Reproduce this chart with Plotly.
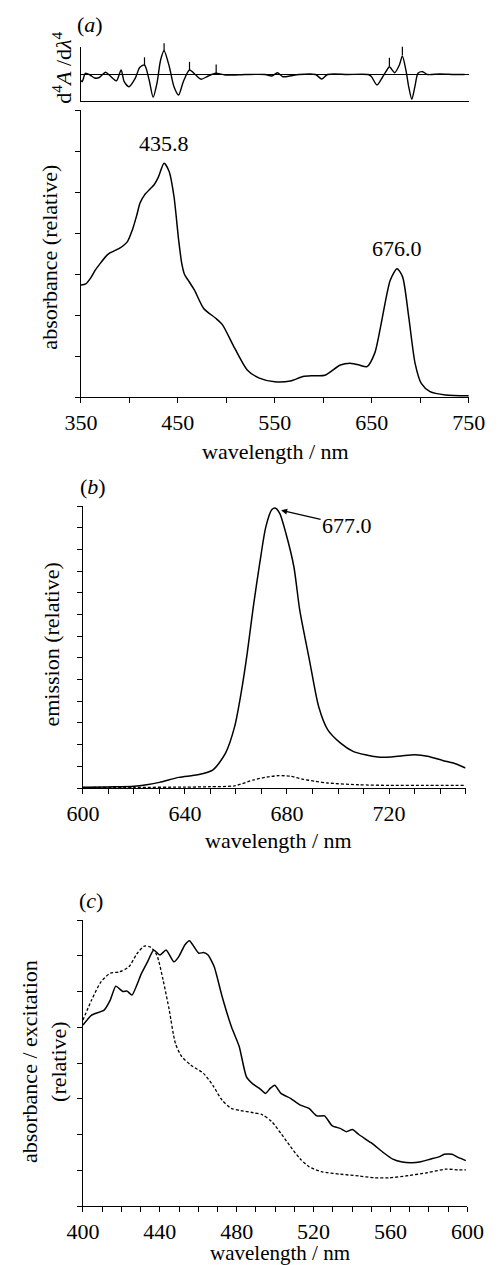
import plotly.graph_objects as go

W, H = 504, 1265
FONT = "Liberation Serif"
FS = 22

# ---------------- data ----------------
# (a) fourth-derivative trace
deriv_nm = [350, 351.4, 354.6, 359.4, 364.2, 369, 375.5, 380.3, 386.7, 391.5, 394.7, 399.5, 406, 410.8,
            415.6, 420.4, 424.5, 428.4, 432.2, 435.8, 441.2, 446, 450.8, 455.6, 462, 468.5, 474, 481.3,
            489.2, 498.8, 520, 540, 546.9, 552.7, 558.2, 575, 592, 598.3, 604.3, 625, 646.3, 649.5,
            655.3, 660.8, 664.9, 668.1, 673.6, 678.4, 681.5, 685.4, 688, 691.2, 694.4, 697.6, 702.4,
            707.2, 720, 735, 745.7]
deriv_val = [-6, -7.2, 1.2, -0.5, -3.5, -3, 2.2, -1.5, -6.2, 4.5, -7.2, -12.2, -3.8, 7.2,
             9.5, -5.5, -22.8, -9, 14.5, 23.8, 7.8, -12.2, -20.5, -7.2, 4.5, -0.5, -4.8, -1.5,
             1.2, -0.5, 0, 0, -1.5, 1.8, -2.2, 0, 0, -4.5, 0, 0, 0, -2,
             -10.5, -3, 3.5, 7.8, 1.8, 9.5, 18.5, 3, -12.2, -24.8, -12.2, 1.2, 2.8,
             0, 0.5, 0, 0]
peak_tick_nm = [415.6, 435.8, 462, 489.5, 668.1, 681.5]
peak_tick_val = [13, 27, 8.5, 5.8, 12.5, 23.5]

# (a) absorbance
abs_nm = [350, 355, 360, 365, 370, 377, 380.4, 390, 398, 403, 407.7, 411, 415.7, 422, 425.3, 430, 435.8,
          441, 446, 450.8, 454, 457, 460.6, 467, 476.6, 489, 496, 508.6, 521.5, 534, 550, 566, 579,
          589, 601.6, 617.6, 628.8, 637, 645, 653, 659, 669, 676, 681.7, 688, 694.6, 701, 710, 726, 750]
abs_val = [2.73, 2.76, 2.9, 3.1, 3.26, 3.46, 3.52, 3.63, 3.79, 4.07, 4.44, 4.73, 4.93, 5.09, 5.17, 5.37, 5.70,
           5.5, 4.89, 3.83, 3.26, 2.98, 2.85, 2.61, 2.16, 1.92, 1.76, 1.19, 0.66, 0.46, 0.37, 0.39, 0.50,
           0.52, 0.53, 0.78, 0.82, 0.78, 0.74, 1.07, 1.71, 2.85, 3.13, 2.93, 1.96, 0.82, 0.33, 0.13, 0.05, 0.03]

# (b) emission
em_nm = [600, 610, 620, 625, 630, 637.6, 645, 651, 655.9, 659.5, 662, 664.4, 666.8, 669.3, 671.7, 674.1,
         675.5, 677.2, 679.6, 682.7, 685, 688.8, 692.4, 696, 701, 705.9, 710.7, 715.6, 720.5, 725.4,
         730.2, 735.1, 741, 746, 750]
em_val = [0.03, 0.05, 0.08, 0.15, 0.26, 0.49, 0.61, 0.84, 1.61, 2.84, 4.37, 6.21, 8.36, 10.35, 12.04, 12.84,
          12.9, 12.65, 11.73, 10.2, 8.2, 5.9, 3.76, 2.68, 2.07, 1.69, 1.53, 1.43, 1.43, 1.49,
          1.53, 1.46, 1.27, 1.12, 0.92]
em2_nm = [600, 620, 640, 650, 659.5, 667, 672, 676.6, 681.5, 686, 691, 696, 708, 720.5, 735, 750]
em2_val = [0.02, 0.03, 0.04, 0.06, 0.1, 0.38, 0.5, 0.57, 0.54, 0.41, 0.31, 0.23, 0.15, 0.12, 0.12, 0.12]

# (c) absorbance / excitation
exc_nm = [400, 404.5, 411, 414.2, 417.1, 420.7, 423, 425.5, 430.4, 433.6, 436.8, 440, 443.3, 447.3, 449.8,
          453, 455.4, 457.8, 460.3, 462.7, 465.1, 468.3, 472.4, 477.2, 481.3, 485, 488.5, 491.8, 495,
          497.4, 499.8, 503, 508, 512.8, 517.6, 521.6, 525.7, 529.7, 533.8, 537, 540.2, 543.5, 549.9,
          556.4, 561.2, 566.1, 570.9, 575.8, 580.6, 585.5, 587.9, 592, 595.2, 599.2]
exc_val = [5.06, 5.34, 5.48, 5.76, 6.15, 6.0, 6.01, 5.9, 6.5, 6.83, 7.16, 7.02, 7.16, 6.83, 6.97,
           7.3, 7.42, 7.25, 7.07, 7.09, 7.02, 6.69, 5.86, 5.02, 4.46, 3.62, 3.41, 3.29, 3.15,
           3.29, 3.38, 3.15, 3.01, 2.83, 2.73, 2.52, 2.52, 2.24, 2.17, 2.08, 2.14, 2.0, 1.77,
           1.49, 1.31, 1.23, 1.21, 1.24, 1.31, 1.38, 1.45, 1.45, 1.36, 1.27]
abs2_nm = [400, 404.5, 409.4, 414.2, 419, 423.9, 428, 432, 435.2, 438.4, 441.7, 444.9, 448.1, 451.4, 456.2,
           462.7, 467.5, 472.4, 477.2, 482, 488.5, 493.4, 498.2, 503, 508, 512.8, 517.6, 524, 533.8,
           543.5, 551.5, 559.6, 569.3, 579, 588.7, 595.2, 599.2]
abs2_val = [5.2, 5.76, 6.27, 6.51, 6.55, 6.69, 7.05, 7.27, 7.24, 7.02, 6.32, 5.48, 4.55, 4.18, 3.94,
            3.71, 3.38, 2.96, 2.73, 2.67, 2.61, 2.55, 2.36, 2.03, 1.66, 1.33, 1.1, 0.96, 0.89,
            0.84, 0.79, 0.79, 0.85, 0.93, 1.03, 1.01, 1.01]


def px(x):
    return x / W


def py(y):
    return 1 - y / H


fig = go.Figure()
LINE = dict(color="black", width=1.5)
DASH = dict(color="black", width=1.3, dash="3px,2px")

fig.add_trace(go.Scatter(x=deriv_nm, y=deriv_val, mode="lines", line=dict(color="black", width=1.4, shape="spline", smoothing=0.7),
                         xaxis="x", yaxis="y", hoverinfo="skip"))
fig.add_trace(go.Scatter(x=peak_tick_nm, y=peak_tick_val, mode="markers", cliponaxis=False,
                         marker=dict(symbol="line-ns", size=6, line=dict(color="black", width=1.2)),
                         xaxis="x", yaxis="y", hoverinfo="skip"))
fig.add_trace(go.Scatter(x=abs_nm, y=abs_val, mode="lines", line=dict(LINE, shape="spline", smoothing=0.7),
                         xaxis="x2", yaxis="y2", hoverinfo="skip"))
fig.add_trace(go.Scatter(x=em_nm, y=em_val, mode="lines", line=dict(LINE, shape="spline", smoothing=0.7),
                         xaxis="x3", yaxis="y3", hoverinfo="skip"))
fig.add_trace(go.Scatter(x=em2_nm, y=em2_val, mode="lines", line=dict(DASH, shape="spline", smoothing=0.7),
                         xaxis="x3", yaxis="y3", hoverinfo="skip"))
fig.add_trace(go.Scatter(x=exc_nm, y=exc_val, mode="lines", line=dict(LINE, shape="spline", smoothing=0.5),
                         xaxis="x4", yaxis="y4", hoverinfo="skip"))
fig.add_trace(go.Scatter(x=abs2_nm, y=abs2_val, mode="lines", line=dict(DASH, shape="spline", smoothing=0.7),
                         xaxis="x4", yaxis="y4", hoverinfo="skip"))

AX = dict(showline=True, linecolor="black", linewidth=1.2, showgrid=False, zeroline=False,
          ticks="outside", tickcolor="black", tickwidth=1.2, ticklen=5,
          tickfont=dict(family=FONT, size=FS, color="black"), mirror=False, fixedrange=True)
MINOR = dict(ticks="outside", ticklen=5, tickcolor="black", tickwidth=1.2)

fig.update_layout(
    xaxis=dict(AX, domain=[px(68.5), px(484.5)], range=[350, 750], anchor="y", ticks="", showticklabels=False),
    yaxis=dict(AX, domain=[py(101), py(47)], range=[-26.5, 27.5], anchor="x", ticks="", showticklabels=False,
               zeroline=True, zerolinecolor="black", zerolinewidth=1.2),
    xaxis2=dict(AX, domain=[px(68.5), px(484.5)], range=[350, 750], anchor="y2", tick0=350, dtick=100,
                minor=dict(MINOR, dtick=50)),
    yaxis2=dict(AX, domain=[py(397), py(110)], range=[0, 7], anchor="x2", dtick=1, showticklabels=False),
    xaxis3=dict(AX, domain=[px(70.7), px(481)], range=[600, 750], anchor="y3", tick0=600, dtick=40,
                minor=dict(MINOR, dtick=10)),
    yaxis3=dict(AX, domain=[py(788), py(506)], range=[0, 13], anchor="x3", dtick=1, showticklabels=False),
    xaxis4=dict(AX, domain=[px(70.7), px(483)], range=[400, 600], anchor="y4", tick0=400, dtick=40,
                minor=dict(MINOR, dtick=10)),
    yaxis4=dict(AX, domain=[py(1206), py(920)], range=[0, 8], anchor="x4", dtick=1, showticklabels=False),
)


def ann(text, x, y, size=FS, angle=0, **kw):
    fig.add_annotation(text=text, x=px(x), y=py(y), xref="paper", yref="paper", showarrow=False,
                       textangle=angle, font=dict(family=FONT, size=size, color="black"),
                       xanchor="center", yanchor="middle", **kw)


ann("(<i>a</i>)", 78, 24)
ann("(<i>b</i>)", 82, 486)
ann("(<i>c</i>)", 79, 900)
ann("d<sup>4</sup><i>A</i> /d<i>λ</i><sup>4</sup>", 48, 68, angle=-90)
ann("absorbance (relative)", 35, 257, angle=-90)
ann("emission (relative)", 36, 645, angle=-90)
ann("absorbance / excitation<br>(relative)", 29, 1062, angle=-90)
ann("wavelength / nm", 277, 452)
ann("wavelength / nm", 280, 840)
ann("wavelength / nm", 282, 1253, size=21)

# peak labels
fig.add_annotation(text="435.8", x=435.8, y=5.70, xref="x2", yref="y2", showarrow=False, yshift=20,
                   font=dict(family=FONT, size=FS, color="black"))
fig.add_annotation(text="676.0", x=676, y=3.13, xref="x2", yref="y2", showarrow=False, yshift=20,
                   font=dict(family=FONT, size=FS, color="black"))
fig.add_annotation(text="677.0", x=677.7, y=12.8, xref="x3", yref="y3", showarrow=True,
                   ax=66, ay=15, arrowhead=2, arrowsize=1, arrowwidth=1.2, arrowcolor="black",
                   font=dict(family=FONT, size=FS, color="black"))

fig.update_layout(width=W, height=H, margin=dict(l=0, r=0, t=0, b=0), showlegend=False,
                  plot_bgcolor="white", paper_bgcolor="white")

fig.write_html("out.html")
